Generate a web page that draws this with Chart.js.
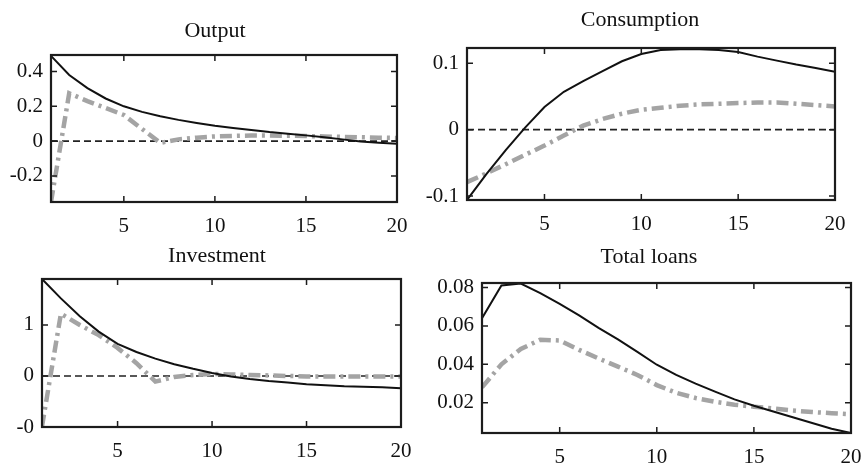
<!DOCTYPE html>
<html>
<head>
<meta charset="utf-8">
<script src="https://cdn.jsdelivr.net/npm/chart.js@4"></script>
<style>
body { margin: 0; background: #fff; overflow: hidden; }
#wrap { position: relative; width: 861px; height: 467px; overflow: hidden; }
canvas { position: absolute; left: -40px; top: -20px; }
</style>
</head>
<body>
<div id="wrap">
  <canvas id="output" width="941" height="507"></canvas>
  <canvas id="consumption" width="941" height="507"></canvas>
  <canvas id="investment" width="941" height="507"></canvas>
  <canvas id="loans" width="941" height="507"></canvas>
</div>
<script>
var periods = [1, 2, 3, 4, 5, 6, 7, 8, 9, 10, 11, 12, 13, 14, 15, 16, 17, 18, 19, 20];
var xTicks = [5, 10, 15, 20];

// Output
var outputSolid = [0.49, 0.38, 0.305, 0.245, 0.2, 0.168, 0.143, 0.122, 0.104, 0.088, 0.076, 0.064, 0.052, 0.043, 0.033, 0.022, 0.01, -0.002, -0.009, -0.015];
var outputDashDot = [-0.35, 0.275, 0.23, 0.19, 0.15, 0.07, -0.01, 0.01, 0.02, 0.027, 0.03, 0.032, 0.032, 0.031, 0.029, 0.027, 0.024, 0.022, 0.02, 0.018];
var outputTicks = [-0.2, 0, 0.2, 0.4];
var outputTickLabels = ['-0.2', '0', '0.2', '0.4'];

// Consumption
var consSolid = [-0.106, -0.067, -0.031, 0.003, 0.034, 0.057, 0.073, 0.088, 0.103, 0.114, 0.12, 0.121, 0.121, 0.12, 0.117, 0.11, 0.104, 0.098, 0.093, 0.087];
var consDashDot = [-0.079, -0.066, -0.052, -0.038, -0.024, -0.009, 0.006, 0.016, 0.024, 0.03, 0.033, 0.036, 0.038, 0.039, 0.04, 0.041, 0.041, 0.039, 0.037, 0.035];
var consTicks = [-0.1, 0, 0.1];
var consTickLabels = ['-0.1', '0', '0.1'];

// Investment
var invSolid = [1.9, 1.52, 1.17, 0.87, 0.63, 0.47, 0.34, 0.23, 0.14, 0.06, -0.01, -0.06, -0.1, -0.13, -0.16, -0.18, -0.2, -0.21, -0.22, -0.24];
var invDashDot = [-0.99, 1.22, 1.0, 0.8, 0.55, 0.25, -0.11, -0.02, 0.02, 0.04, 0.03, 0.02, 0.01, 0.0, -0.01, -0.01, -0.01, -0.01, -0.01, -0.01];
var invTicks = [-1, 0, 1];
var invTickLabels = ['-0', '0', '1'];

// Total loans
var loansSolid = [0.064, 0.081, 0.082, 0.077, 0.0715, 0.0655, 0.059, 0.053, 0.0465, 0.0398, 0.0345, 0.03, 0.0258, 0.0218, 0.0185, 0.0155, 0.0125, 0.0095, 0.0065, 0.0043];
var loansDashDot = [0.028, 0.04, 0.048, 0.0528, 0.0524, 0.0475, 0.0431, 0.0388, 0.0345, 0.0292, 0.0252, 0.0225, 0.0205, 0.019, 0.018, 0.017, 0.016, 0.0152, 0.0146, 0.0141];
var loansTicks = [0.02, 0.04, 0.06, 0.08];
var loansTickLabels = ['0.02', '0.04', '0.06', '0.08'];

var serif = '"Liberation Serif", "Times New Roman", serif';
// canvases sit 40px left and 20px above the page so edge labels are not cut
var offX = 40, offY = 20, canW = 941, canH = 507;

// box frame, inward ticks and the panel title
var framePlugin = {
    id: 'frame',
    afterDraw: function(chart, args, opts) {
        var ctx = chart.ctx, a = chart.chartArea;
        var xs = chart.scales.x, ys = chart.scales.y;
        ctx.save();
        ctx.strokeStyle = '#1c1c1c';
        ctx.lineWidth = 1.5;
        ctx.beginPath();
        xs.ticks.forEach(function(t) {
            var px = xs.getPixelForValue(t.value);
            ctx.moveTo(px, a.bottom); ctx.lineTo(px, a.bottom - 6);
            ctx.moveTo(px, a.top); ctx.lineTo(px, a.top + 6);
        });
        ys.ticks.forEach(function(t) {
            var py = ys.getPixelForValue(t.value);
            ctx.moveTo(a.left, py); ctx.lineTo(a.left + 6, py);
            ctx.moveTo(a.right, py); ctx.lineTo(a.right - 6, py);
        });
        ctx.stroke();
        ctx.lineWidth = 2.2;
        ctx.strokeRect(a.left, a.top, a.right - a.left, a.bottom - a.top);
        ctx.fillStyle = '#111';
        ctx.font = '22px ' + serif;
        ctx.textAlign = 'center';
        ctx.textBaseline = 'middle';
        ctx.fillText(opts.text, opts.x + offX, opts.y + offY);
        ctx.restore();
    }
};

function makePanel(id, title, solid, dashdot, yTicks, yLabels, yMin, yMax, zeroLine, box, titlePos) {
    var datasets = [{
        data: periods.map(function(p, i) { return { x: p, y: solid[i] }; }),
        borderColor: '#111',
        borderWidth: 2,
        order: 1
    }, {
        data: periods.map(function(p, i) { return { x: p, y: dashdot[i] }; }),
        borderColor: '#a4a4a4',
        borderWidth: 4.5,
        borderDash: [12, 5, 3, 5],
        order: 2
    }];
    if (zeroLine) {
        datasets.push({
            data: periods.map(function(p) { return { x: p, y: 0 }; }),
            borderColor: '#222',
            borderWidth: 1.6,
            borderDash: [7, 4],
            order: 3
        });
    }
    return new Chart(document.getElementById(id), {
        type: 'line',
        data: { datasets: datasets },
        options: {
            responsive: false,
            animation: false,
            events: [],
            elements: { point: { radius: 0 }, line: { tension: 0, fill: false } },
            layout: {
                padding: {
                    left: box.left + offX - 60,
                    right: canW - offX - box.right,
                    top: box.top + offY,
                    bottom: canH - offY - box.bottom - 40
                }
            },
            plugins: {
                legend: { display: false },
                tooltip: { enabled: false },
                frame: { text: title, x: titlePos[0], y: titlePos[1] }
            },
            scales: {
                x: {
                    type: 'linear',
                    min: 1,
                    max: 20,
                    afterBuildTicks: function(s) { s.ticks = xTicks.map(function(v) { return { value: v }; }); },
                    afterFit: function(s) { s.height = 40; s.paddingLeft = 0; s.paddingRight = 0; },
                    grid: { display: false, drawTicks: false },
                    border: { display: false },
                    ticks: { color: '#111', font: { family: serif, size: 21 }, padding: 12, maxRotation: 0 }
                },
                y: {
                    min: yMin,
                    max: yMax,
                    afterBuildTicks: function(s) { s.ticks = yTicks.map(function(v) { return { value: v }; }); },
                    afterFit: function(s) { s.width = 60; s.paddingTop = 0; s.paddingBottom = 0; },
                    grid: { display: false, drawTicks: false },
                    border: { display: false },
                    ticks: {
                        color: '#111',
                        font: { family: serif, size: 21 },
                        padding: 8,
                        callback: function(v) { return yLabels[yTicks.indexOf(v)]; }
                    }
                }
            }
        },
        plugins: [framePlugin]
    });
}

makePanel('output', 'Output', outputSolid, outputDashDot, outputTicks, outputTickLabels, -0.35, 0.495, true,
    { left: 51, right: 397, top: 55, bottom: 202 }, [215, 31]);
makePanel('consumption', 'Consumption', consSolid, consDashDot, consTicks, consTickLabels, -0.106, 0.123, true,
    { left: 467, right: 835, top: 48, bottom: 200 }, [640, 20]);
makePanel('investment', 'Investment', invSolid, invDashDot, invTicks, invTickLabels, -1, 1.9, true,
    { left: 42, right: 401, top: 279, bottom: 427 }, [217, 256]);
makePanel('loans', 'Total loans', loansSolid, loansDashDot, loansTicks, loansTickLabels, 0.0043, 0.0823, false,
    { left: 482, right: 851, top: 283, bottom: 433 }, [649, 257]);
</script>
</body>
</html>
